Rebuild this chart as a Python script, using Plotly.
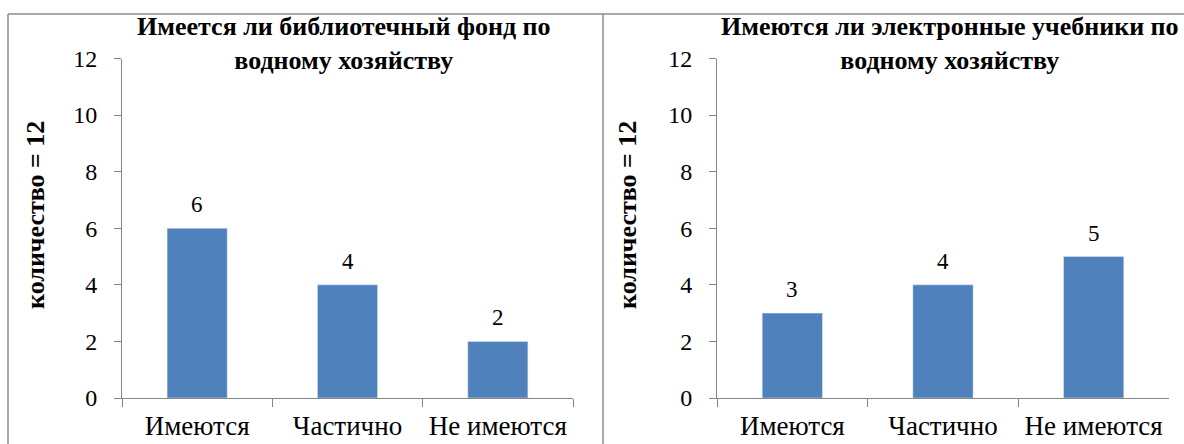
import plotly.graph_objects as go

# Survey answers (12 respondents)
categories = ["Имеются", "Частично", "Не имеются"]
library_counts = [6, 4, 2]
ebook_counts = [3, 4, 5]

title_left = "Имеется ли библиотечный фонд по<br>водному хозяйству"
title_right = "Имеются ли электронные учебники по<br>водному хозяйству"
y_title = "количество = 12"
y_ticks = [0, 2, 4, 6, 8, 10, 12]

W, H = 1184, 444
BAR = "#4F81BD"
AXIS = "#868686"
FONT = "Liberation Serif"


def px_x(p):
    return p / W


def px_y(p):
    return 1 - p / H


fig = go.Figure()
fig.add_trace(go.Bar(x=categories, y=library_counts, marker_color=BAR,
                     width=0.4, xaxis="x", yaxis="y", showlegend=False))
fig.add_trace(go.Bar(x=categories, y=ebook_counts, marker_color=BAR,
                     width=0.4, xaxis="x2", yaxis="y2", showlegend=False))

y_dom = [px_y(398), px_y(58.5)]
xaxis_common = dict(
    type="category", showline=True, linecolor=AXIS, linewidth=1,
    ticks="outside", tickson="boundaries", ticklen=8, tickcolor=AXIS,
    tickangle=0, automargin=False,
    tickfont=dict(family=FONT, size=27, color="black"),
    ticklabelstandoff=4, showgrid=False, zeroline=False, fixedrange=True,
)
yaxis_common = dict(
    range=[0, 12], tickvals=y_ticks, showline=True, linecolor=AXIS,
    linewidth=1, ticks="outside", ticklen=7, tickcolor=AXIS,
    automargin=False,
    tickfont=dict(family=FONT, size=24, color="black"),
    ticklabelstandoff=12, showgrid=False, zeroline=False, domain=y_dom,
)

fig.update_layout(
    width=W, height=H, margin=dict(l=0, r=0, t=0, b=0),
    paper_bgcolor="white", plot_bgcolor="white", bargap=0.6,
    font=dict(family=FONT, color="black"),
    xaxis=dict(domain=[px_x(122), px_x(573)], anchor="y", **xaxis_common),
    yaxis=dict(anchor="x", **yaxis_common),
    xaxis2=dict(domain=[px_x(717), px_x(1169)], anchor="y2", **xaxis_common),
    yaxis2=dict(anchor="x2", **yaxis_common),
)

annotations = []
# value labels above bars
for xa, ya, vals in (("x", "y", library_counts), ("x2", "y2", ebook_counts)):
    for c, v in zip(categories, vals):
        annotations.append(dict(
            x=c, y=v, xref=xa, yref=ya, text=str(v), showarrow=False,
            yanchor="bottom", yshift=9,
            font=dict(family=FONT, size=23, color="black")))

# two-line bold titles
for cx, text in ((344, title_left), (950, title_right)):
    annotations.append(dict(
        x=px_x(cx), y=px_y(44), xref="paper", yref="paper",
        text="<b>" + text + "</b>", showarrow=False,
        xanchor="center", yanchor="middle",
        font=dict(family=FONT, size=26, color="black")))

# rotated y-axis titles
for cx in (35, 627):
    annotations.append(dict(
        x=px_x(cx), y=px_y(215), xref="paper", yref="paper",
        text="<b>" + y_title + "</b>", showarrow=False, textangle=-90,
        xanchor="center", yanchor="middle",
        font=dict(family=FONT, size=26, color="black")))

fig.update_layout(annotations=annotations)

# chart frames
frame = dict(type="line", xref="paper", yref="paper",
             line=dict(color="#8C8C8C", width=1.5))
fig.add_shape(x0=px_x(8), x1=px_x(1190), y0=px_y(14), y1=px_y(14), **frame)
fig.add_shape(x0=px_x(8), x1=px_x(8), y0=px_y(14), y1=px_y(460), **frame)
fig.add_shape(x0=px_x(603), x1=px_x(603), y0=px_y(14), y1=px_y(460), **frame)

fig.write_html("out.html")
